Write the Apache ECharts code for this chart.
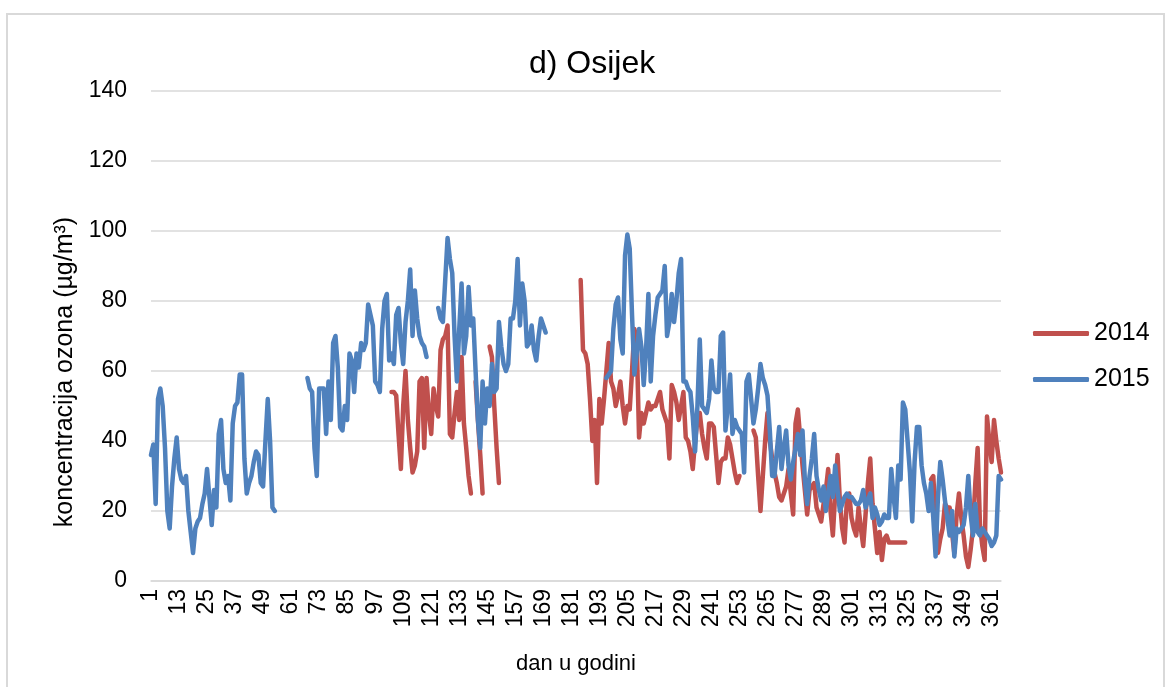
<!DOCTYPE html>
<html>
<head>
<meta charset="utf-8">
<title>d) Osijek</title>
<script src="https://cdn.jsdelivr.net/npm/echarts@6/dist/echarts.min.js"></script>
<style>
  html, body { margin: 0; padding: 0; background: #fff; }
  #chart { width: 1168px; height: 687px; }
</style>
</head>
<body>
<div id="chart"></div>
<script>
// dnevne koncentracije ozona, dan 1..365, _ = nema podatka
const _ = null

const days = []
for (let d = 1; d <= 365; d++) days.push(String(d))

const seriesNames = ['2014', '2015']

const ozon2014 = [
  _, _, _, _, _, _, _, _, _, _,
  _, _, _, _, _, _, _, _, _, _,
  _, _, _, _, _, _, _, _, _, _,
  _, _, _, _, _, _, _, _, _, _,
  _, _, _, _, _, _, _, _, _, _,
  _, _, _, _, _, _, _, _, _, _,
  _, _, _, _, _, _, _, _, _, _,
  _, _, _, _, _, _, _, _, _, _,
  _, _, _, _, _, _, _, _, _, _,
  _, _, _, _, _, _, _, _, _, _,
  _, _, _, 54, 54, 53, 42, 32, 50, 60,
  46, 38, 31, 33, 37, 57, 58, 38, 58, 48,
  42, 55, 50, 47, 66, 69, 70, 73, 42, 41,
  48, 54, 46, 64, 45, 38, 30, 25, _, 57,
  46, 36, 25, _, _, 67, 64, 50, 38, 28,
  _, _, _, _, _, _, _, _, _, _,
  _, _, _, _, _, _, _, _, _, _,
  _, _, _, _, _, _, _, _, _, _,
  _, _, _, _, 86, 66, 65, 62, 52, 40,
  46, 28, 52, 45, 52, 60, 68, 57, 55, 50,
  53, 57, 50, 45, 50, 49, 60, 72, 69, 41,
  48, 45, 48, 51, 49, 50, 50, 52, 54, 49,
  47, 45, 35, 56, 54, 51, 46, 50, 54, 41,
  40, 37, 32, 40, 46, 48, 42, 38, 35, 45,
  45, 44, 36, 28, 34, 35, 35, 41, 39, 35,
  31, 28, 30, _, _, _, _, _, 43, 41,
  30, 20, 30, 40, 48, 40, 35, 31, 28, 24,
  23, 25, 27, 32, 25, 19, 45, 49, 41, 33,
  26, 19, 26, 27, 28, 21, 19, 17, 22, 26,
  32, 20, 13, 25, 36, 23, 15, 11, 23, 25,
  18, 15, 13, 21, 15, 10, 19, 28, 35, 22,
  15, 8, 14, 6, 12, 13, 11, 11, 11, 11,
  11, 11, 11, 11, _, _, _, _, _, _,
  _, _, _, _, 29, 30, 18, 8, 12, 15,
  22, 21, 21, 14, 8, 19, 25, 18, 13, 7,
  4, 9, 15, 28, 38, 16, 10, 6, 47, 40,
  34, 46, 40, 35, 31
]

const ozon2015 = [
  36, 39, 22, 52, 55, 50, 38, 20, 15, 27,
  35, 41, 32, 29, 28, 30, 20, 14, 8, 15,
  17, 18, 22, 25, 32, 24, 16, 26, 21, 42,
  46, 32, 28, 30, 23, 45, 50, 51, 59, 59,
  35, 25, 28, 30, 34, 37, 36, 28, 27, 40,
  52, 40, 21, 20, _, _, _, _, _, _,
  _, _, _, _, _, _, _, 58, 55, 54,
  38, 30, 55, 55, 55, 42, 57, 46, 68, 70,
  61, 44, 43, 50, 46, 65, 63, 54, 65, 61,
  68, 66, 68, 79, 76, 73, 57, 56, 54, 72,
  80, 82, 63, 65, 62, 76, 78, 68, 62, 74,
  80, 89, 70, 83, 75, 70, 68, 67, 64, _,
  _, _, _, 78, 75, 74, 86, 98, 92, 88,
  70, 57, 72, 85, 65, 70, 84, 73, 75, 60,
  46, 38, 57, 45, 55, 50, 62, 54, 55, 74,
  67, 62, 60, 62, 75, 75, 80, 92, 73, 85,
  80, 67, 68, 73, 66, 63, 70, 75, 73, 71,
  _, _, _, _, _, _, _, _, _, _,
  _, _, _, _, _, _, _, _, _, _,
  _, _, _, _, _, 58, 59, 60, 72, 79,
  81, 69, 65, 93, 99, 95, 76, 59, 65, 72,
  67, 56, 66, 82, 57, 70, 76, 81, 82, 83,
  90, 70, 74, 82, 74, 80, 88, 92, 57, 57,
  55, 54, 47, 37, 50, 69, 50, 49, 48, 52,
  63, 55, 54, 54, 70, 71, 43, 50, 59, 42,
  46, 44, 43, 42, 31, 57, 59, 52, 45, 49,
  55, 62, 58, 56, 53, 43, 30, 30, 37, 44,
  32, 38, 43, 33, 29, 34, 38, 42, 36, 43,
  29, 22, 30, 35, 42, 30, 26, 23, 27, 20,
  25, 30, 24, 33, 26, 20, 22, 24, 25, 24,
  24, 23, 22, 22, 23, 26, 21, 23, 25, 18,
  21, 19, 16, 17, 19, 18, 18, 32, 24, 18,
  33, 29, 51, 49, 40, 31, 17, 34, 44, 44,
  33, 28, 25, 20, 28, 18, 7, 24, 34, 29,
  23, 18, 13, 20, 7, 15, 14, 15, 16, 21,
  30, 19, 13, 22, 14, 13, 15, 14, 13, 12,
  10, 11, 13, 30, 29
]

const yTicks = { min: 0, max: 140, step: 20 }
const colors = ['#C0504D', '#4F81BD']

const font = 'Liberation Sans, Arial, sans-serif'
const chart = echarts.init(document.getElementById('chart'))

const option = {
  animation: false,
  textStyle: { fontFamily: font, color: '#000' },
  color: colors,
  graphic: [{
    type: 'rect',
    shape: { x: 7, y: 14, width: 1157, height: 700 },
    style: { fill: 'none', stroke: '#d9d9d9', lineWidth: 2 }
  }],
  title: {
    text: 'd) Osijek',
    left: 524,
    top: 43,
    textStyle: { fontFamily: font, fontSize: 32, fontWeight: 'normal', color: '#000' }
  },
  legend: {
    orient: 'vertical',
    left: 1033,
    top: 321,
    padding: 0,
    icon: 'roundRect',
    itemWidth: 56,
    itemHeight: 5,
    itemGap: 21,
    textStyle: { fontFamily: font, fontSize: 25, color: '#000' },
    data: seriesNames
  },
  grid: { left: 151, right: 167, top: 91, bottom: 106 },
  xAxis: {
    type: 'category',
    data: days,
    boundaryGap: false,
    name: 'dan u godini',
    nameLocation: 'middle',
    nameGap: 72,
    nameTextStyle: { fontFamily: font, fontSize: 22, color: '#000' },
    axisLine: { lineStyle: { color: '#d9d9d9', width: 1.5 } },
    axisTick: { show: false },
    axisLabel: { interval: 11, rotate: 90, fontSize: 23, color: '#000', margin: 8, fontFamily: font }
  },
  yAxis: {
    type: 'value',
    min: yTicks.min,
    max: yTicks.max,
    interval: yTicks.step,
    name: 'koncentracija ozona (µg/m³)',
    nameLocation: 'middle',
    nameRotate: 90,
    nameGap: 72,
    nameTextStyle: { fontFamily: font, fontSize: 25, color: '#000', padding: [0, 72, 0, 0] },
    axisLine: { show: false },
    axisTick: { show: false },
    axisLabel: { fontSize: 23, color: '#000', margin: 24, fontFamily: font },
    splitLine: { lineStyle: { color: '#d9d9d9', width: 1.5 } }
  },
  series: [
    {
      name: seriesNames[0],
      type: 'line',
      data: ozon2014,
      symbol: 'none',
      connectNulls: false,
      lineStyle: { width: 4.5, color: colors[0], join: 'round', cap: 'round' }
    },
    {
      name: seriesNames[1],
      type: 'line',
      data: ozon2015,
      symbol: 'none',
      connectNulls: false,
      lineStyle: { width: 4.5, color: colors[1], join: 'round', cap: 'round' }
    }
  ]
}

chart.setOption(option)
</script>
</body>
</html>
